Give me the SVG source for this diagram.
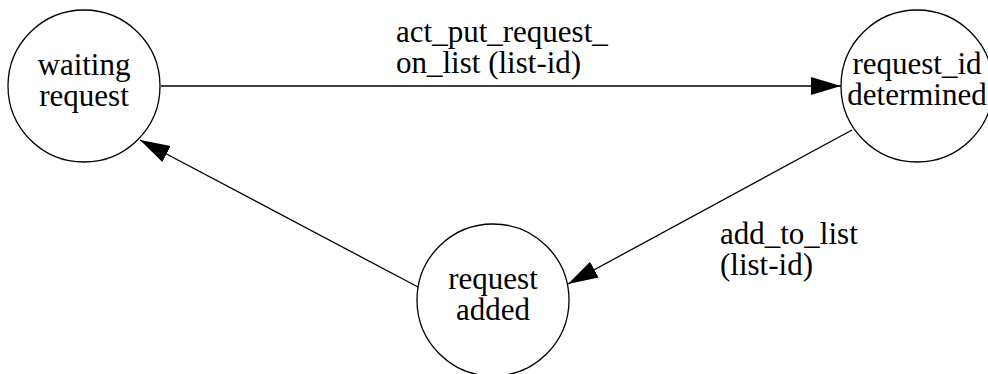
<svg xmlns="http://www.w3.org/2000/svg" width="988" height="374" viewBox="0 0 988 374">
<style>
.n{fill:#fff;stroke:#000;stroke-width:1.3}
.t{font-family:"Liberation Serif","Times New Roman",serif;font-size:31px;fill:#000}
.c{text-anchor:middle}
.e{fill:none;stroke:#000;stroke-width:1.3}
</style>
<defs>
<marker id="ah" markerUnits="userSpaceOnUse" markerWidth="32" markerHeight="22" viewBox="0 0 32 22" refX="30" refY="11" orient="auto">
<path d="M0,2 L30,11 L0,20 Z" fill="#000"/>
</marker>
</defs>
<rect width="988" height="374" fill="#fff"/>
<g id="edges">
<line class="e" x1="161" y1="86" x2="841" y2="86" marker-end="url(#ah)"/>
<line class="e" x1="852" y1="130" x2="568" y2="284" marker-end="url(#ah)"/>
<line class="e" x1="418" y1="287" x2="140" y2="140" marker-end="url(#ah)"/>
<text class="t" x="396" y="42">act_put_request_</text>
<text class="t" x="396" y="73">on_list (list-id)</text>
<text class="t" x="720" y="244">add_to_list</text>
<text class="t" x="720" y="275">(list-id)</text>
</g>
<g id="waiting_request">
<circle class="n" cx="84" cy="86" r="76"/>
<text class="t c" x="84" y="75">waiting</text>
<text class="t c" x="84" y="106">request</text>
</g>
<g id="request_id_determined">
<circle class="n" cx="917" cy="86" r="76"/>
<text class="t c" x="917" y="74">request_id</text>
<text class="t c" x="917" y="105">determined</text>
</g>
<g id="request_added">
<circle class="n" cx="493" cy="300" r="76"/>
<text class="t c" x="493" y="289">request</text>
<text class="t c" x="493" y="320">added</text>
</g>
</svg>
